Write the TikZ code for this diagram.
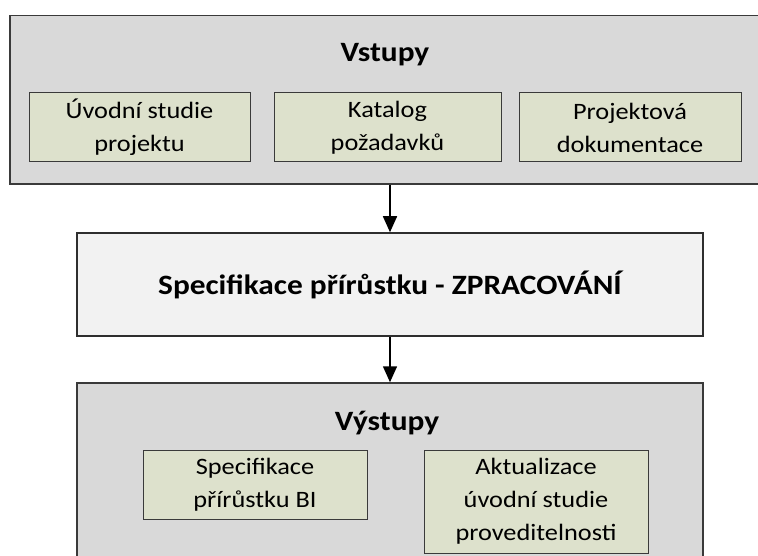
\documentclass[tikz,border=0pt]{standalone}
\usepackage{fontspec}
\setmainfont[FakeStretch=1.12]{Carlito}
\usetikzlibrary{arrows.meta}
\definecolor{outerfill}{HTML}{D9D9D9}
\definecolor{innerfill}{HTML}{DDE1CC}
\definecolor{midfill}{HTML}{F2F2F2}
\definecolor{edge}{HTML}{3A3A3A}
\tikzset{
  outerbox/.style={draw=edge, line width=1.5pt, fill=outerfill, inner sep=0pt},
  midbox/.style={draw=edge!80!black, line width=1.5pt, fill=midfill, inner sep=0pt},
  itembox/.style={draw=edge, line width=1pt, fill=innerfill, inner sep=0pt, align=center,
    font=\fontsize{23.5}{33}\selectfont},
  heading/.style={font=\fontsize{28}{32}\selectfont\bfseries, inner sep=0pt},
  arr/.style={line width=1.5pt, -{Triangle[width=14pt,length=16pt]}}
}
\begin{document}
\begin{tikzpicture}[x=1pt,y=-1pt]
\useasboundingbox (0,0) rectangle (758,556);
% top group
\node[outerbox, minimum width=760pt, minimum height=168.5pt] (top) at (390,99.75) {};
\node[heading] (vst) at (385,55) {Vstupy};
\node[itembox, minimum width=221pt, minimum height=69pt] (i1) at (139.5,127.5) {Úvodní studie\\projektu};
\node[itembox, minimum width=227pt, minimum height=69pt] (i2) at (387.5,127.5) {Katalog\\požadavků};
\node[itembox, minimum width=222pt, minimum height=69pt] (i3) at (630,127.5) {Projektová\\dokumentace};
% middle
\node[midbox, minimum width=626pt, minimum height=103pt, font=\fontsize{28}{32}\selectfont\bfseries] (mid) at (390,284.5) {Specifikace přírůstku - ZPRACOVÁNÍ};
% bottom group
\node[outerbox, minimum width=626pt, minimum height=217pt] (bot) at (390,491.5) {};
\node[heading] (vyst) at (387,423) {Výstupy};
\node[itembox, minimum width=224pt, minimum height=69pt] (o1) at (255,484.5) {Specifikace\\přírůstku BI};
\node[itembox, minimum width=224pt, minimum height=103pt] (o2) at (536,501.5) {Aktualizace\\úvodní studie\\proveditelnosti};
% connectors
\draw[arr] (top.south) -- (mid.north);
\draw[arr] (mid.south) -- (bot.north);
\end{tikzpicture}
\end{document}
